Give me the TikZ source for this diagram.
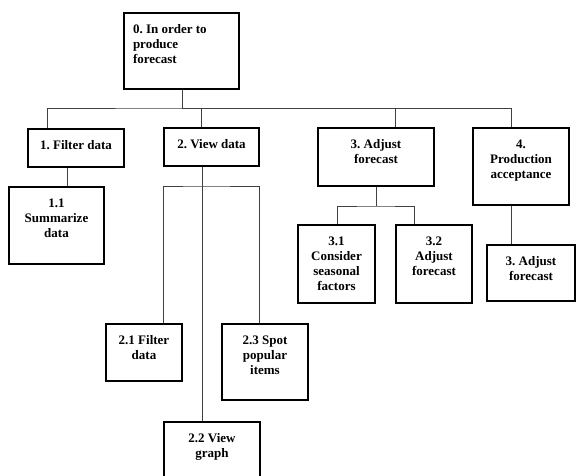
\documentclass[tikz,border=0pt]{standalone}
\usepackage{xcolor}
\usepackage{fontspec}
\setmainfont{Liberation Serif}
\frenchspacing

\newcommand{\boxtext}[3]{\parbox[t][#2][t]{#1}{\centering\rule{0pt}{20.5pt}#3}}
\newcommand{\boxtextleft}[3]{\parbox[t][#2][t]{#1}{\raggedright\leftskip=9pt\rule{0pt}{20.5pt}#3}}

\begin{document}
\begin{tikzpicture}[x=1pt,y=-1pt]
        \tikzset{box/.style={draw=black,line width=2pt,inner sep=0pt,anchor=north west,
                text=black,font=\fontsize{13}{15}\selectfont\bfseries},
            link/.style={draw=black!75,line width=0.9pt}}
        \useasboundingbox (0,0) rectangle (576,475);
        \clip (0,0) rectangle (576,475);
        % top level
        \node[box] (b0) at (123,12) {\boxtextleft{115pt}{76pt}{0. In order to\\produce\\forecast}};
        \node[box] (b1) at (27,128) {\boxtext{96pt}{38pt}{1. Filter data}};
        \node[box] (b2) at (163,127) {\boxtext{95pt}{38pt}{2. View data}};
        \node[box] (b3) at (317,127) {\boxtext{116pt}{58pt}{3. Adjust\\forecast}};
        \node[box] (b4) at (472,127) {\boxtext{96pt}{77pt}{4.\\Production\\acceptance}};
        % second level
        \node[box] (b11) at (8,186) {\boxtext{95pt}{77pt}{1.1\\Summarize\\data}};
        \node[box] (b21) at (105,323) {\boxtext{76pt}{57pt}{2.1 Filter\\data}};
        \node[box] (b22) at (163,421) {\boxtext{96pt}{70pt}{2.2 View\\graph}};
        \node[box] (b23) at (221,323) {\boxtext{86pt}{76pt}{2.3 Spot\\popular\\items}};
        \node[box] (b31) at (297,224) {\boxtext{77pt}{78pt}{3.1\\Consider\\seasonal\\factors}};
        \node[box] (b32) at (395,224) {\boxtext{76pt}{78pt}{3.2\\Adjust\\forecast}};
        \node[box] (b41) at (486,244) {\boxtext{88pt}{56pt}{3. Adjust\\forecast}};
        \coordinate (hub0) at (182,108);
        \coordinate (hub2) at (202,186);
        \coordinate (hub3) at (376,206);
        % connectors
        \draw[link] (b0.south -| hub0) -- (hub0);
        \draw[link] ([xshift=20pt]b1.north west) |- (hub0) -| ([xshift=39pt]b4.north west);
        \draw[link] ([xshift=38pt]b2.north west) |- (hub0);
        \draw[link] ([xshift=78pt]b3.north west) |- (hub0);
        \draw[link] ([xshift=40pt]b1.south west) -- ([xshift=59pt]b11.north west);
        \draw[link] ([xshift=39pt]b2.south west) -- ([xshift=39pt]b22.north west);
        \draw[link] ([xshift=58pt]b21.north west) |- (hub2) -| ([xshift=38pt]b23.north west);
        \draw[link] ([xshift=59pt]b3.south west) -- (hub3);
        \draw[link] ([xshift=40pt]b31.north west) |- (hub3) -| ([xshift=19pt]b32.north west);
        \draw[link] ([xshift=39pt]b4.south west) -- ([xshift=25pt]b41.north west);
    \end{tikzpicture}
\end{document}
